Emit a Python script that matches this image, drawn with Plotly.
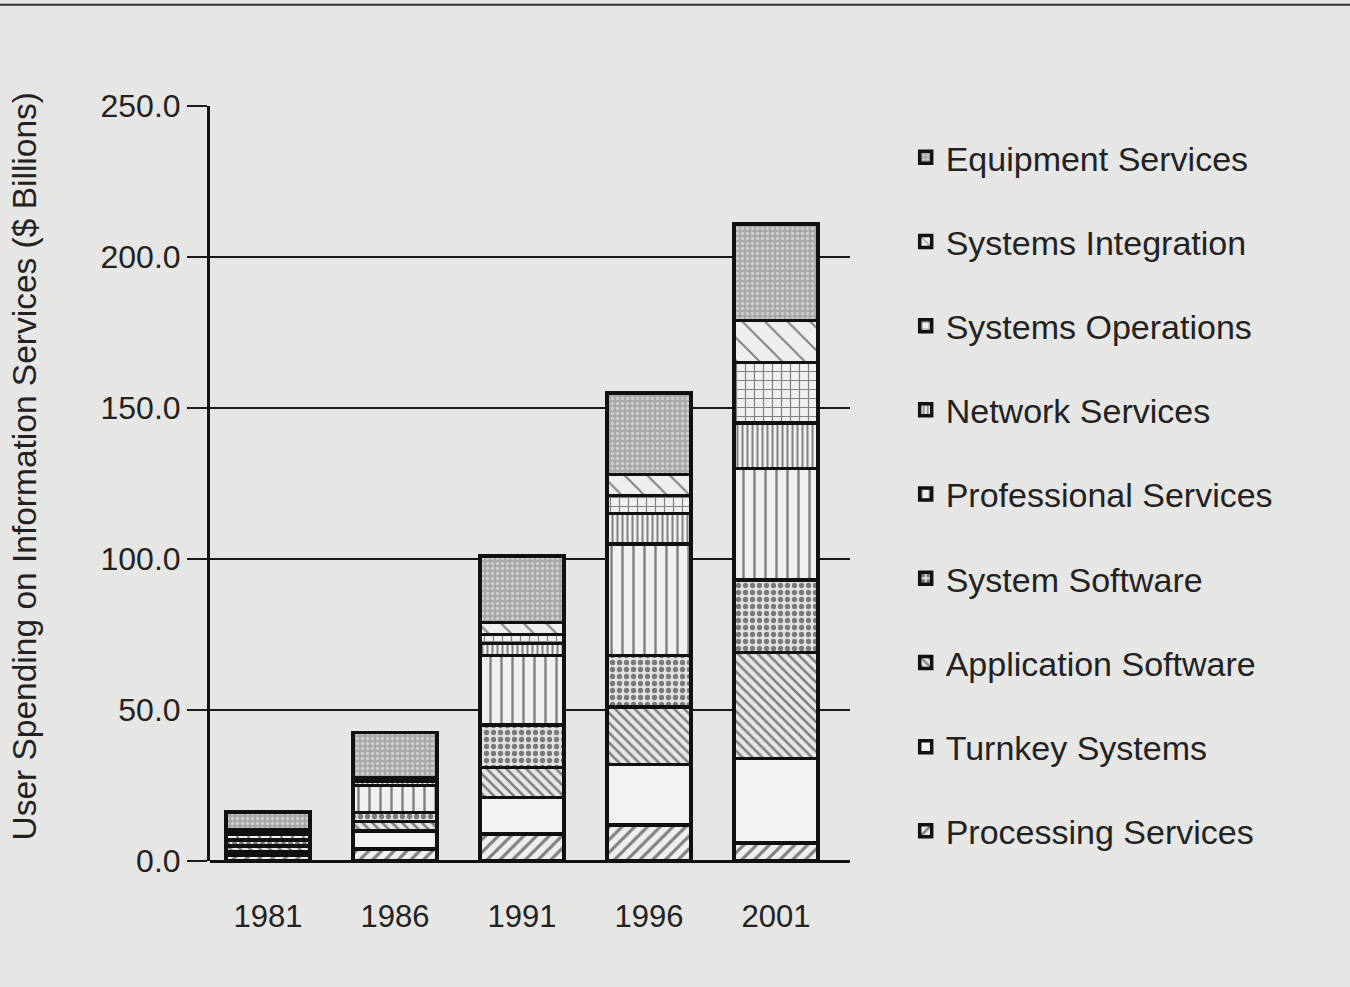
import plotly.graph_objects as go

years = ["1981", "1986", "1991", "1996", "2001"]
x_pos = [0, 1, 2, 3, 4]

# Segment values ($ billions), bottom to top of each stack
processing   = [2.0, 4.0, 9.0, 12.0, 6.0]
turnkey      = [1.0, 6.0, 12.0, 20.0, 28.0]
app_software = [2.0, 3.0, 10.0, 19.0, 35.0]
sys_software = [2.0, 3.0, 14.0, 17.0, 24.0]
professional = [2.0, 9.0, 23.0, 37.0, 37.0]
network      = [0.5, 1.5, 4.0, 10.0, 15.0]
sys_ops      = [0.5, 0.5, 3.0, 6.0, 20.0]
sys_integ    = [0.3, 0.5, 4.0, 7.0, 14.0]
equipment    = [6.0, 15.0, 22.0, 27.0, 32.0]

y_ticks = [0, 50, 100, 150, 200, 250]

series = [
    ("Processing Services", processing, "#eeeeec", "/", 9, 0.35),
    ("Turnkey Systems", turnkey, "#f2f2f0", "", 8, 0.3),
    ("Application Software", app_software, "#e6e6e4", "\\", 7, 0.35),
    ("System Software", sys_software, "#e2e2e0", ".", 7, 0.45),
    ("Professional Services", professional, "#f0f0ee", "|", 11, 0.22),
    ("Network Services", network, "#f0f0ee", "|", 5, 0.4),
    ("Systems Operations", sys_ops, "#f0f0ee", "+", 9, 0.25),
    ("Systems Integration", sys_integ, "#eeeeec", "\\", 16, 0.12),
    ("Equipment Services", equipment, "#a8a8a6", ".", 5, 0.35),
]

fig = go.Figure()
for i, (name, vals, col, shape, size, sol) in enumerate(series):
    fg = "#f4f4f4" if name == "Equipment Services" else "#111111"
    fig.add_trace(go.Bar(
        x=x_pos, y=vals, name=name, legendgroup=name,
        legendrank=1000 - i,
        width=0.66,
        marker=dict(
            color=col,
            line=dict(color="#111111", width=3.5),
            pattern=dict(shape=shape, fgcolor=fg, size=size, solidity=sol),
        ),
    ))

bg = "#e6e6e4"
fig.update_layout(
    barmode="stack",
    width=1350, height=987,
    margin=dict(l=210, r=500, t=106, b=126),
    paper_bgcolor=bg, plot_bgcolor=bg,
    font=dict(family="Liberation Sans, Arial, sans-serif", color="#222222", size=30),
    showlegend=True,
    legend=dict(
        x=1.087, xanchor="left", y=0.970, yanchor="top",
        traceorder="grouped", tracegroupgap=37,
        font=dict(size=34, color="#222222"),
        bgcolor="rgba(0,0,0,0)",
        maxheight=960,
    ),
    xaxis=dict(
        range=[-0.457, 4.583], tickvals=x_pos, ticktext=years,
        showgrid=False, zeroline=False, showline=False,
        ticks="outside", ticklen=28, tickcolor="rgba(0,0,0,0)",
        tickfont=dict(size=31),
    ),
    yaxis=dict(
        range=[0, 250], tickvals=y_ticks, tickformat=".1f", ticksuffix="  ",
        showgrid=True, gridcolor="#1a1a1a", gridwidth=1.5,
        zeroline=True, zerolinecolor="#111111", zerolinewidth=3,
        showline=True, linecolor="#111111", linewidth=3,
        ticks="outside", ticklen=20, tickcolor="#1a1a1a", tickwidth=1.5,
        tickfont=dict(size=32),
    ),
    annotations=[dict(
        text="User Spending on Information Services ($ Billions)",
        xref="paper", yref="paper", x=-0.29, y=0.523,
        xanchor="center", yanchor="middle", textangle=-90,
        showarrow=False, font=dict(size=33.5, color="#222222"),
    )],
    shapes=[
        dict(type="line", xref="paper", yref="paper",
             x0=-0.33, x1=1.79, y0=1.134, y1=1.134,
             line=dict(color="#333333", width=2)),
    ],
)

fig.write_html("out.html")
